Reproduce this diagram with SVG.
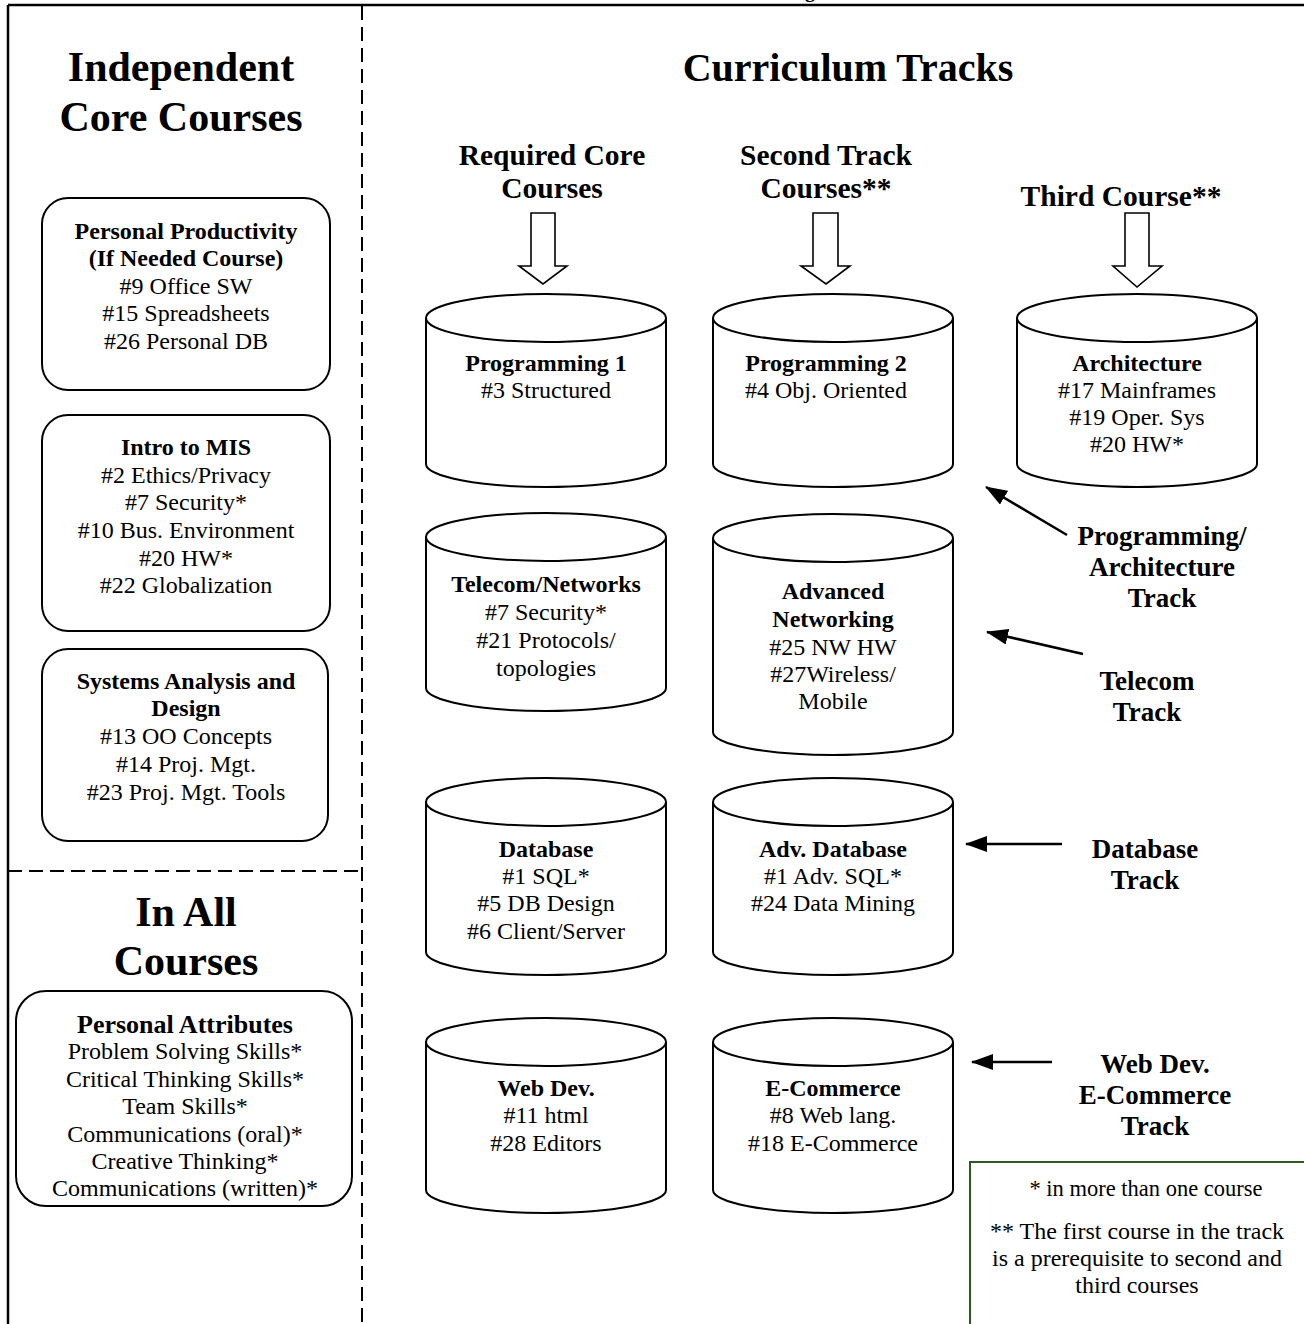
<svg xmlns="http://www.w3.org/2000/svg" width="1304" height="1324" viewBox="0 0 1304 1324">
<style>
text{font-family:"Liberation Serif","Times New Roman",serif;fill:#000;text-anchor:middle}
.b{font-weight:bold}
.t{font-size:24px}
.ttl{font-size:42px;font-weight:bold}
.hd{font-size:29.5px;font-weight:bold}
.tr{font-size:27px;font-weight:bold}
.box{fill:#fff;stroke:#000;stroke-width:2}
.cyl{fill:#fff;stroke:#000;stroke-width:2}
.dash{stroke:#000;stroke-width:2;stroke-dasharray:14 7;fill:none}
.harrow{fill:#fff;stroke:#000;stroke-width:1.6}
.conn{stroke:#000;stroke-width:2.5;fill:none}
</style>
<defs>
<marker id="ah2" markerWidth="22" markerHeight="16" refX="21" refY="8" orient="auto" markerUnits="userSpaceOnUse" viewBox="0 0 22 16">
<path d="M0,0 L22,8 L0,16 Z" fill="#000"/>
</marker>
</defs>
<rect width="1304" height="1324" fill="#fff"/>
<text x="810" y="-3" class="b" style="font-size:20px">g</text>
<g id="frame">
<line x1="8" y1="5" x2="1304" y2="5" stroke="#000" stroke-width="2.5"/>
<line x1="8" y1="5" x2="8" y2="1324" stroke="#000" stroke-width="2.5"/>
<line x1="362" y1="6" x2="362" y2="1324" class="dash"/>
<line x1="8" y1="871" x2="358" y2="871" class="dash"/>
</g>
<text x="181" y="81" class="ttl">Independent</text>
<text x="181" y="131" class="ttl">Core Courses</text>
<text x="848" y="81" class="ttl" style="font-size:40px">Curriculum Tracks</text>
<text x="186" y="926" class="ttl">In All</text>
<text x="186" y="975" class="ttl">Courses</text>
<g id="personal-productivity">
<rect x="42" y="198" width="288" height="192" rx="26" class="box"/>
<text x="186" y="239" class="t b">Personal Productivity</text>
<text x="186" y="266" class="t b">(If Needed Course)</text>
<text x="186" y="294" class="t">#9 Office SW</text>
<text x="186" y="321" class="t">#15 Spreadsheets</text>
<text x="186" y="349" class="t">#26 Personal DB</text>
</g>
<g id="intro-mis">
<rect x="42" y="415" width="288" height="216" rx="26" class="box"/>
<text x="186" y="455" class="t b">Intro to MIS</text>
<text x="186" y="483" class="t">#2 Ethics/Privacy</text>
<text x="186" y="510" class="t">#7 Security*</text>
<text x="186" y="538" class="t">#10 Bus. Environment</text>
<text x="186" y="566" class="t">#20 HW*</text>
<text x="186" y="593" class="t">#22 Globalization</text>
</g>
<g id="systems-analysis">
<rect x="42" y="649" width="286" height="192" rx="26" class="box"/>
<text x="186" y="689" class="t b">Systems Analysis and</text>
<text x="186" y="716" class="t b">Design</text>
<text x="186" y="744" class="t">#13 OO Concepts</text>
<text x="186" y="772" class="t">#14 Proj. Mgt.</text>
<text x="186" y="800" class="t">#23 Proj. Mgt. Tools</text>
</g>
<g id="personal-attributes">
<rect x="16" y="991" width="336" height="215" rx="30" class="box"/>
<text x="185" y="1033" class="b" style="font-size:26px">Personal Attributes</text>
<text x="185" y="1059" class="t">Problem Solving Skills*</text>
<text x="185" y="1087" class="t">Critical Thinking Skills*</text>
<text x="185" y="1114" class="t">Team Skills*</text>
<text x="185" y="1142" class="t">Communications (oral)*</text>
<text x="185" y="1169" class="t">Creative Thinking*</text>
<text x="185" y="1196" class="t">Communications (written)*</text>
</g>
<g id="header-required">
<text x="552" y="165" class="hd">Required Core</text>
<text x="552" y="198" class="hd">Courses</text>
<polygon points="531,213 555,213 555,266 567,266 543,284 519,266 531,266" class="harrow"/>
</g>
<g id="header-second">
<text x="826" y="165" class="hd">Second Track</text>
<text x="826" y="198" class="hd">Courses**</text>
<polygon points="813,213 838,213 838,266 850,266 826,284 801,266 813,266" class="harrow"/>
</g>
<g id="header-third">
<text x="1121" y="206" class="hd">Third Course**</text>
<polygon points="1125,213 1149,213 1149,266 1162,266 1137,287 1113,266 1125,266" class="harrow"/>
</g>
<g id="programming-1">
<path d="M426,318 A120,24 0 0 1 666,318 V464 A120,23 0 0 1 426,464 Z" class="cyl"/>
<path d="M426,318 A120,24 0 0 0 666,318" class="cyl" fill="none"/>
<text x="546" y="371" class="t b">Programming 1</text>
<text x="546" y="398" class="t">#3 Structured</text>
</g>
<g id="programming-2">
<path d="M713,318 A120,24 0 0 1 953,318 V464 A120,23 0 0 1 713,464 Z" class="cyl"/>
<path d="M713,318 A120,24 0 0 0 953,318" class="cyl" fill="none"/>
<text x="826" y="371" class="t b">Programming 2</text>
<text x="826" y="398" class="t">#4 Obj. Oriented</text>
</g>
<g id="architecture">
<path d="M1017,318 A120,24 0 0 1 1257,318 V464 A120,23 0 0 1 1017,464 Z" class="cyl"/>
<path d="M1017,318 A120,24 0 0 0 1257,318" class="cyl" fill="none"/>
<text x="1137" y="371" class="t b">Architecture</text>
<text x="1137" y="398" class="t">#17 Mainframes</text>
<text x="1137" y="425" class="t">#19 Oper. Sys</text>
<text x="1137" y="452" class="t">#20 HW*</text>
</g>
<g id="telecom-networks">
<path d="M426,537 A120,24 0 0 1 666,537 V688 A120,23 0 0 1 426,688 Z" class="cyl"/>
<path d="M426,537 A120,24 0 0 0 666,537" class="cyl" fill="none"/>
<text x="546" y="592" class="t b">Telecom/Networks</text>
<text x="546" y="620" class="t">#7 Security*</text>
<text x="546" y="648" class="t">#21 Protocols/</text>
<text x="546" y="676" class="t">topologies</text>
</g>
<g id="advanced-networking">
<path d="M713,538 A120,24 0 0 1 953,538 V732 A120,23 0 0 1 713,732 Z" class="cyl"/>
<path d="M713,538 A120,24 0 0 0 953,538" class="cyl" fill="none"/>
<text x="833" y="599" class="t b">Advanced</text>
<text x="833" y="627" class="t b">Networking</text>
<text x="833" y="655" class="t">#25 NW HW</text>
<text x="833" y="682" class="t">#27Wireless/</text>
<text x="833" y="709" class="t">Mobile</text>
</g>
<g id="database">
<path d="M426,802 A120,24 0 0 1 666,802 V952 A120,23 0 0 1 426,952 Z" class="cyl"/>
<path d="M426,802 A120,24 0 0 0 666,802" class="cyl" fill="none"/>
<text x="546" y="857" class="t b">Database</text>
<text x="546" y="884" class="t">#1 SQL*</text>
<text x="546" y="911" class="t">#5 DB Design</text>
<text x="546" y="939" class="t">#6 Client/Server</text>
</g>
<g id="adv-database">
<path d="M713,802 A120,24 0 0 1 953,802 V952 A120,23 0 0 1 713,952 Z" class="cyl"/>
<path d="M713,802 A120,24 0 0 0 953,802" class="cyl" fill="none"/>
<text x="833" y="857" class="t b">Adv. Database</text>
<text x="833" y="884" class="t">#1 Adv. SQL*</text>
<text x="833" y="911" class="t">#24 Data Mining</text>
</g>
<g id="web-dev">
<path d="M426,1042 A120,24 0 0 1 666,1042 V1190 A120,23 0 0 1 426,1190 Z" class="cyl"/>
<path d="M426,1042 A120,24 0 0 0 666,1042" class="cyl" fill="none"/>
<text x="546" y="1096" class="t b">Web Dev.</text>
<text x="546" y="1123" class="t">#11 html</text>
<text x="546" y="1151" class="t">#28 Editors</text>
</g>
<g id="e-commerce">
<path d="M713,1042 A120,24 0 0 1 953,1042 V1190 A120,23 0 0 1 713,1190 Z" class="cyl"/>
<path d="M713,1042 A120,24 0 0 0 953,1042" class="cyl" fill="none"/>
<text x="833" y="1096" class="t b">E-Commerce</text>
<text x="833" y="1123" class="t">#8 Web lang.</text>
<text x="833" y="1151" class="t">#18 E-Commerce</text>
</g>
<g id="track-prog-arch">
<text x="1162" y="545" class="tr">Programming/</text>
<text x="1162" y="576" class="tr">Architecture</text>
<text x="1162" y="607" class="tr">Track</text>
</g>
<g id="track-telecom">
<text x="1147" y="690" class="tr">Telecom</text>
<text x="1147" y="721" class="tr">Track</text>
</g>
<g id="track-database">
<text x="1145" y="858" class="tr">Database</text>
<text x="1145" y="889" class="tr">Track</text>
</g>
<g id="track-webdev">
<text x="1155" y="1073" class="tr">Web Dev.</text>
<text x="1155" y="1104" class="tr">E-Commerce</text>
<text x="1155" y="1135" class="tr">Track</text>
</g>
<g id="connectors">
<line x1="1067" y1="535" x2="986" y2="487" class="conn" marker-end="url(#ah2)"/>
<line x1="1083" y1="654" x2="987" y2="632" class="conn" marker-end="url(#ah2)"/>
<line x1="1062" y1="844" x2="966" y2="844" class="conn" marker-end="url(#ah2)"/>
<line x1="1052" y1="1062" x2="972" y2="1062" class="conn" marker-end="url(#ah2)"/>
</g>
<g id="legend">
<rect x="970" y="1162" width="340" height="180" fill="#fff" stroke="#2d5a1e" stroke-width="2"/>
<text x="1146" y="1196" class="t" style="font-size:22.5px">* in more than one course</text>
<text x="1137" y="1239" class="t">** The first course in the track</text>
<text x="1137" y="1266" class="t">is a prerequisite to second and</text>
<text x="1137" y="1293" class="t">third courses</text>
</g>
</svg>
